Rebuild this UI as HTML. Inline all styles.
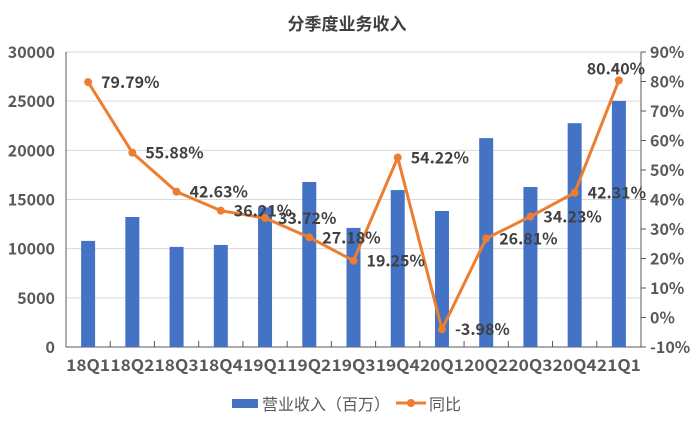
<!DOCTYPE html>
<html><head><meta charset="utf-8"><style>
body{margin:0;background:#fff;width:694px;height:420px;overflow:hidden}
svg text{font-family:"Noto Sans CJK SC","Liberation Sans",sans-serif}
</style></head><body>
<svg id="c" width="694" height="420"></svg>
<script>
const categories=["18Q1","18Q2","18Q3","18Q4","19Q1","19Q2","19Q3","19Q4","20Q1","20Q2","20Q3","20Q4","21Q1"];
const revenue=[10790,13220,10180,10380,14200,16780,12110,15960,13830,21240,16270,22760,25030];
const yoy=[79.79,55.88,42.63,36.21,33.72,27.18,19.25,54.22,-3.98,26.81,34.23,42.31,80.40];
const leftTicks=[0,5000,10000,15000,20000,25000,30000];
const rightTicks=[-10,0,10,20,30,40,50,60,70,80,90];
const NS="http://www.w3.org/2000/svg",svg=document.getElementById('c');
const X0=66,X1=641,Y0=347,Y1=52;
const bw=(X1-X0)/categories.length;
const xc=i=>X0+bw*(i+0.5);
const yL=v=>Y0-(v/30000)*(Y0-Y1);
const yR=v=>Y0-((v+10)/100)*(Y0-Y1);
function el(t,a,p){const e=document.createElementNS(NS,t);for(const k in a)e.setAttribute(k,a[k]);(p||svg).appendChild(e);return e;}
let t=el('text',{x:347,y:30,'text-anchor':'middle','font-size':17,'font-weight':'bold',fill:'#404040'});t.textContent='分季度业务收入';


leftTicks.forEach(v=>{
 if(v>0){const g=el('line',{x1:X0,x2:X1,y1:yL(v),y2:yL(v),stroke:'#d9d9d9'});
 
 }
 const l=el('text',{x:55,y:yL(v)+6,'text-anchor':'end','font-size':16,'font-weight':'bold',fill:'#595959'});l.textContent=v;
 
 
});
rightTicks.forEach(v=>{
 const l=el('text',{x:650,y:yR(v)+6,'font-size':16,'font-weight':'bold',fill:'#595959'});l.textContent=v+'%';
 
 
 el('line',{x1:X1,x2:X1+5,y1:yR(v),y2:yR(v),stroke:'#595959'});
});
el('line',{x1:X0,x2:X0,y1:Y1,y2:Y0,stroke:'#595959'});
el('line',{x1:X1,x2:X1,y1:Y1,y2:Y0,stroke:'#595959'});
el('line',{x1:X0,x2:X1,y1:Y0,y2:Y0,stroke:'#595959'});
categories.forEach((c,i)=>{
 el('line',{x1:X0+bw*i,x2:X0+bw*i,y1:Y0,y2:Y0-6,stroke:'#595959'});
 const b=el('rect',{x:xc(i)-7,y:yL(revenue[i]),width:14,height:Y0-yL(revenue[i]),fill:'#4472c4'});
 
 
 const l=el('text',{x:xc(i),y:Y0+24,'text-anchor':'middle','font-size':16,'font-weight':'bold',fill:'#595959',textLength:44,lengthAdjust:'spacingAndGlyphs'});l.textContent=c;
 
 
});
const pl=el('polyline',{points:yoy.map((v,i)=>xc(i)+','+yR(v)).join(' '),fill:'none',stroke:'#ed7d31','stroke-width':3,'stroke-linejoin':'round'});


yoy.forEach((v,i)=>{
 const p=el('circle',{cx:xc(i),cy:yR(v),r:4,fill:'#ed7d31'});
 
 
 const last=i===yoy.length-1;
 const l=el('text',{x:last?xc(i)-3:xc(i)+13,y:last?yR(v)-6:yR(v)+6,'text-anchor':last?'middle':'start','font-size':16,'font-weight':'bold',fill:'#404040'});
 l.textContent=v.toFixed(2)+'%';
 
 
});
const lg=el('g',{});


el('rect',{x:232,y:399,width:26,height:9,fill:'#4472c4'},lg);
let a=el('text',{x:262,y:410,'font-size':16,fill:'#595959'},lg);a.textContent='营业收入（百万）';
el('line',{x1:396,x2:426,y1:403,y2:403,stroke:'#ed7d31','stroke-width':3},lg);
el('circle',{cx:411,cy:403,r:4,fill:'#ed7d31'},lg);
let b2=el('text',{x:429,y:410,'font-size':16,fill:'#595959'},lg);b2.textContent='同比';
</script>
</body></html>
